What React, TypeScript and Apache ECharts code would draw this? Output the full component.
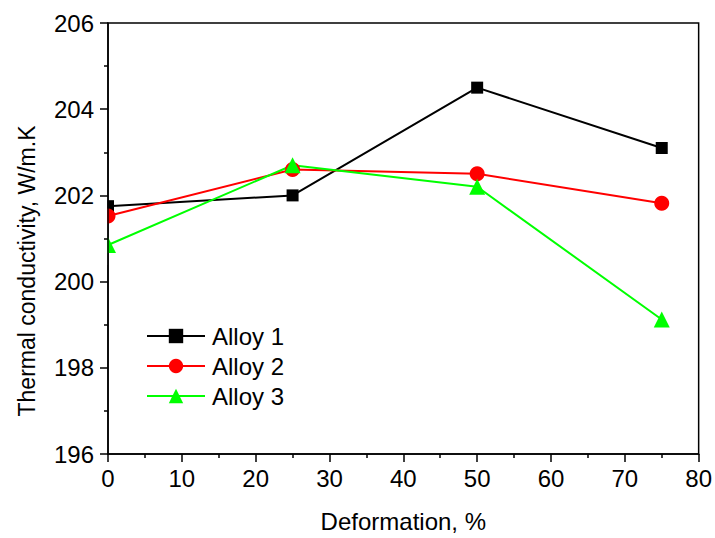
import React, { useEffect, useRef } from "react";
import * as echarts from "echarts";

const deformation = [0, 25, 50, 75];
const alloy1 = [201.75, 202.0, 204.5, 203.1];
const alloy2 = [201.52, 202.6, 202.5, 201.82];
const alloy3 = [200.85, 202.7, 202.2, 199.12];
const seriesNames = ["Alloy 1", "Alloy 2", "Alloy 3"];
const xTitle = "Deformation, %";
const yTitle = "Thermal conductivity, W/m.K";

const FONT = "'Liberation Sans', Arial, Helvetica, sans-serif";

export default function App() {
  const ref = useRef<HTMLDivElement>(null);
  useEffect(() => {
    if (!ref.current) return;
    const chart = echarts.init(ref.current, null, { renderer: "svg" });
    const pair = (ys: number[]) => deformation.map((x, i) => [x, ys[i]]);
    const axisCommon = {
      axisLine: { show: true, lineStyle: { color: "#000", width: 1.5 } },
      axisTick: { show: true, inside: false, length: 8, lineStyle: { color: "#000", width: 1.5 } },
      minorTick: { show: true, splitNumber: 2, length: 4, lineStyle: { color: "#000", width: 1.5 } },
      splitLine: { show: false },
      axisLabel: { color: "#000", fontSize: 24, fontFamily: FONT },
    };
    chart.setOption({
      animation: false,
      backgroundColor: "#fff",
      grid: {
        left: 108,
        right: 16,
        top: 23,
        bottom: 80,
        show: true,
        borderColor: "#000",
        borderWidth: 1.5,
        backgroundColor: "transparent",
      },
      xAxis: {
        type: "value",
        min: 0,
        max: 80,
        interval: 10,
        z: 10,
        ...axisCommon,
        axisLabel: { ...axisCommon.axisLabel, margin: 12 },
        name: xTitle,
        nameLocation: "middle",
        nameGap: 55,
        nameTextStyle: { color: "#000", fontSize: 24, fontFamily: FONT },
      },
      yAxis: {
        type: "value",
        min: 196,
        max: 206,
        interval: 2,
        z: 10,
        ...axisCommon,
        axisLabel: { ...axisCommon.axisLabel, margin: 14 },
      },
      graphic: [
        {
          type: "rect",
          z: 5,
          shape: { x: 94, y: 195, width: 13.2, height: 70 },
          style: { fill: "#fff" },
        },
        {
          type: "text",
          x: 27,
          y: 271,
          z: 5,
          rotation: Math.PI / 2,
          style: {
            text: yTitle,
            font: `23px ${FONT}`,
            fill: "#000",
            textAlign: "center",
            textVerticalAlign: "middle",
          },
        },
      ],
      legend: {
        orient: "vertical",
        left: 141,
        top: 319,
        itemWidth: 58,
        itemHeight: 18,
        itemGap: 6,
        textStyle: { color: "#000", fontSize: 24, fontFamily: FONT, padding: [0, 0, 0, 2] },
        data: seriesNames,
      },
      series: [
        {
          name: seriesNames[0],
          type: "line",
          data: pair(alloy1),
          symbol: "rect",
          symbolSize: 12,
          color: "#000000",
          lineStyle: { width: 2, color: "#000000" },
          itemStyle: { color: "#000000" },
        },
        {
          name: seriesNames[1],
          type: "line",
          data: pair(alloy2),
          symbol: "circle",
          symbolSize: 15,
          color: "#ff0000",
          lineStyle: { width: 2, color: "#ff0000" },
          itemStyle: { color: "#ff0000" },
        },
        {
          name: seriesNames[2],
          type: "line",
          data: pair(alloy3),
          symbol: "triangle",
          symbolSize: 16,
          color: "#00ff00",
          lineStyle: { width: 2, color: "#00ff00" },
          itemStyle: { color: "#00ff00" },
        },
      ],
    });
    return () => chart.dispose();
  }, []);
  return <div ref={ref} style={{ width: 715, height: 538, position: "absolute", left: 0, top: 0 }} />;
}
